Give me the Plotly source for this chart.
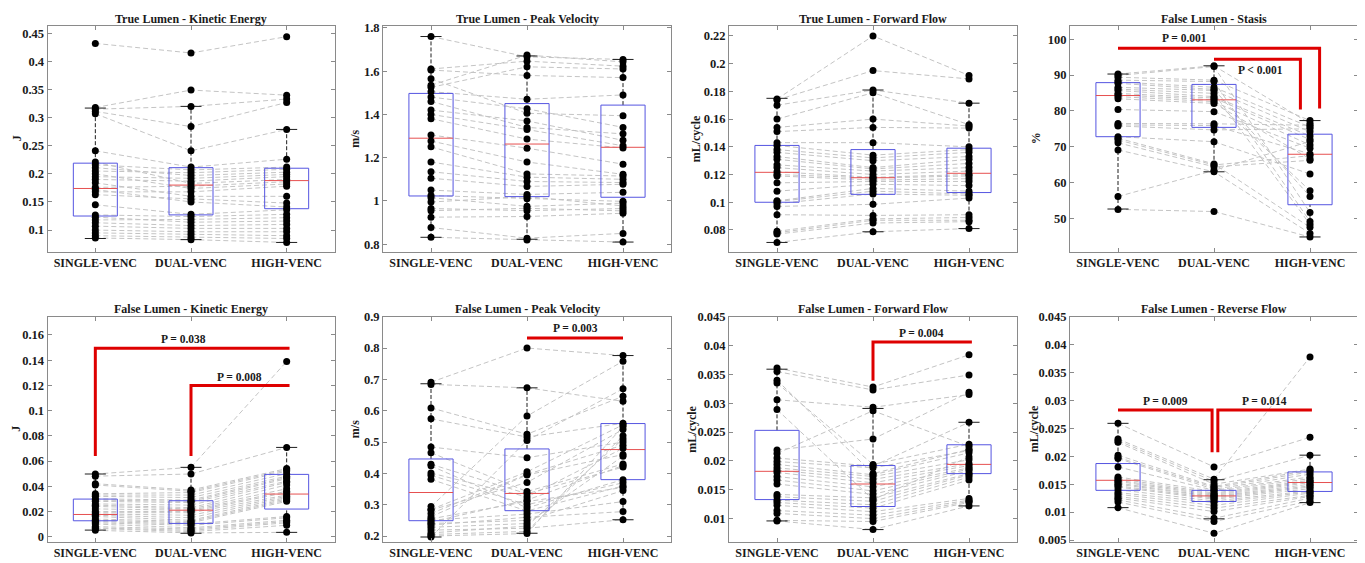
import plotly.graph_objects as go

PAGE_OFFSET = 8  # default body margin of the html page
W, H = 1365 - PAGE_OFFSET, 563 - PAGE_OFFSET
FONT = "Liberation Serif, DejaVu Serif, serif"
TXT = "#1a1a1a"
FRAME = "#8a8a8a"

CATEGORIES = ["SINGLE-VENC", "DUAL-VENC", "HIGH-VENC"]
CAT_X = [1, 2, 3]

TITLES = ["True Lumen - Kinetic Energy", "True Lumen - Peak Velocity",
          "True Lumen - Forward Flow", "False Lumen - Stasis",
          "False Lumen - Kinetic Energy", "False Lumen - Peak Velocity",
          "False Lumen - Forward Flow", "False Lumen - Reverse Flow"]
UNITS = ["J", "m/s", "mL/cycle", "%", "J", "m/s", "mL/cycle", "mL/cycle"]

# ---------------- Panel 1: True Lumen - Kinetic Energy ----------------
tl_ke_single = [0.432, 0.318, 0.315, 0.311, 0.307, 0.241, 0.221, 0.216, 0.211, 0.205, 0.200, 0.195, 0.190, 0.184,
                0.176, 0.172, 0.168, 0.163, 0.145, 0.127, 0.123, 0.118, 0.113, 0.107, 0.100, 0.095, 0.090, 0.086]
tl_ke_dual = [0.415, 0.349, 0.320, 0.284, 0.241, 0.212, 0.183, 0.207, 0.197, 0.202, 0.174, 0.192, 0.187, 0.160,
              0.178, 0.150, 0.168, 0.155, 0.128, 0.124, 0.114, 0.119, 0.108, 0.103, 0.097, 0.092, 0.087, 0.083]
tl_ke_high = [0.444, 0.340, 0.333, 0.327, 0.279, 0.226, 0.190, 0.212, 0.203, 0.208, 0.182, 0.199, 0.195, 0.160,
              0.186, 0.141, 0.178, 0.148, 0.136, 0.128, 0.116, 0.122, 0.110, 0.103, 0.097, 0.090, 0.085, 0.078]
tl_ke_q1 = [0.125, 0.127, 0.138]
tl_ke_med = [0.174, 0.180, 0.188]
tl_ke_q3 = [0.219, 0.211, 0.210]
tl_ke_lo = [0.085, 0.083, 0.078]
tl_ke_hi = [0.317, 0.320, 0.279]
tl_ke_ticks = [0.1, 0.15, 0.2, 0.25, 0.3, 0.35, 0.4, 0.45]
tl_ke_ticktext = ["0.1", "0.15", "0.2", "0.25", "0.3", "0.35", "0.4", "0.45"]

# ---------------- Panel 2: True Lumen - Peak Velocity ----------------
tl_pv_single = [1.76, 1.61, 1.605, 1.565, 1.535, 1.525, 1.505, 1.48, 1.46, 1.42, 1.40, 1.38, 1.305, 1.277,
                1.25, 1.18, 1.135, 1.105, 1.05, 1.025, 1.015, 0.995, 0.965, 0.955, 0.925, 0.877, 0.832]
tl_pv_dual = [1.666, 1.646, 1.58, 1.405, 1.674, 1.62, 1.47, 1.426, 1.34, 1.37, 1.33, 1.286, 1.244, 1.18,
              1.125, 1.11, 1.09, 1.067, 1.03, 1.01, 0.975, 1.02, 0.955, 0.966, 0.928, 0.828, 0.82]
tl_pv_high = [1.654, 1.623, 1.57, 1.394, 1.643, 1.61, 1.49, 1.34, 1.31, 1.28, 1.255, 1.245, 1.17, 1.123,
              1.115, 1.10, 1.085, 1.077, 1.04, 0.998, 0.99, 0.977, 0.965, 0.954, 0.943, 0.85, 0.81]
tl_pv_q1 = [1.023, 1.020, 1.017]
tl_pv_med = [1.290, 1.263, 1.248]
tl_pv_q3 = [1.497, 1.450, 1.443]
tl_pv_lo = [0.832, 0.823, 0.810]
tl_pv_hi = [1.760, 1.670, 1.654]
tl_pv_ticks = [0.8, 1.0, 1.2, 1.4, 1.6, 1.8]
tl_pv_ticktext = ["0.8", "1", "1.2", "1.4", "1.6", "1.8"]

# ---------------- Panel 3: True Lumen - Forward Flow ----------------
tl_ff_single = [0.1745, 0.1738, 0.170, 0.160, 0.154, 0.151, 0.143, 0.141, 0.138, 0.136, 0.133, 0.131, 0.127, 0.125,
                0.122, 0.120, 0.119, 0.114, 0.108, 0.101, 0.1005, 0.099, 0.097, 0.091, 0.079, 0.078, 0.077, 0.071]
tl_ff_dual = [0.220, 0.195, 0.181, 0.179, 0.160, 0.154, 0.143, 0.134, 0.132, 0.130, 0.125, 0.124, 0.1225, 0.120,
              0.118, 0.1175, 0.116, 0.115, 0.113, 0.110, 0.108, 0.106, 0.0985, 0.0905, 0.088, 0.087, 0.085, 0.0787]
tl_ff_high = [0.1915, 0.189, 0.1715, 0.156, 0.155, 0.1535, 0.140, 0.138, 0.136, 0.133, 0.131, 0.128, 0.125, 0.1225,
              0.120, 0.119, 0.117, 0.115, 0.112, 0.108, 0.106, 0.105, 0.103, 0.091, 0.089, 0.087, 0.086, 0.081]
tl_ff_q1 = [0.100, 0.1057, 0.107]
tl_ff_med = [0.1216, 0.1177, 0.1209]
tl_ff_q3 = [0.141, 0.138, 0.139]
tl_ff_lo = [0.071, 0.0787, 0.081]
tl_ff_hi = [0.175, 0.181, 0.1715]
tl_ff_ticks = [0.08, 0.10, 0.12, 0.14, 0.16, 0.18, 0.20, 0.22]
tl_ff_ticktext = ["0.08", "0.1", "0.12", "0.14", "0.16", "0.18", "0.2", "0.22"]

# ---------------- Panel 4: False Lumen - Stasis ----------------
fl_st_single = [90.3, 89.9, 89.4, 88.6, 88.1, 87.7, 86.6, 86.1, 85.7, 84.9, 84.5, 84.0, 83.4, 80.4,
                76.5, 76.1, 75.8, 72.8, 72.4, 71.9, 71.1, 69.1, 56.1, 52.5]
fl_st_dual = [92.6, 92.4, 88.6, 88.2, 86.6, 86.0, 85.7, 84.9, 84.0, 83.6, 83.1, 82.6, 82.1, 79.8,
              76.4, 75.9, 74.7, 71.4, 65.2, 64.9, 64.4, 63.0, 63.4, 51.9]
fl_st_high = [76.5, 51.6, 77.3, 49.1, 75.5, 56.1, 74.2, 48.3, 73.0, 72.0, 57.7, 70.5, 66.6, 69.6,
              76.0, 68.0, 75.0, 62.4, 47.5, 67.5, 66.2, 45.8, 71.5, 44.8]
fl_st_q1 = [72.8, 75.4, 53.8]
fl_st_med = [84.3, 83.1, 67.9]
fl_st_q3 = [87.9, 87.4, 73.5]
fl_st_lo = [52.6, 63.0, 44.8]
fl_st_hi = [90.3, 92.6, 77.3]
fl_st_ticks = [50, 60, 70, 80, 90, 100]
fl_st_ticktext = ["50", "60", "70", "80", "90", "100"]
fl_st_brackets = [([1, 3.1, 3.1], [97.5, 97.5, 80.7]), ([2, 2.9, 2.9], [94.4, 94.4, 80.4])]
fl_st_pvals = [("P = 0.001", 1.69, 100.3), ("P < 0.001", 2.48, 91.4)]

# ---------------- Panel 5: False Lumen - Kinetic Energy ----------------
fl_ke_single = [0.0497, 0.048, 0.042, 0.041, 0.034, 0.033, 0.032, 0.030, 0.029, 0.028, 0.026, 0.025, 0.024, 0.022,
                0.020, 0.019, 0.018, 0.017, 0.016, 0.014, 0.013, 0.012, 0.011, 0.010, 0.008, 0.007, 0.0065, 0.005]
fl_ke_dual = [0.055, 0.0497, 0.037, 0.036, 0.035, 0.033, 0.031, 0.029, 0.028, 0.027, 0.025, 0.023, 0.022, 0.021,
              0.020, 0.019, 0.017, 0.015, 0.013, 0.012, 0.011, 0.010, 0.009, 0.007, 0.006, 0.005, 0.004, 0.003]
fl_ke_high = [0.139, 0.0708, 0.054, 0.053, 0.052, 0.050, 0.048, 0.047, 0.046, 0.044, 0.043, 0.041, 0.038, 0.036,
              0.035, 0.033, 0.032, 0.031, 0.030, 0.029, 0.028, 0.016, 0.015, 0.013, 0.012, 0.011, 0.009, 0.0034]
fl_ke_q1 = [0.0126, 0.0105, 0.0219]
fl_ke_med = [0.0176, 0.0210, 0.0338]
fl_ke_q3 = [0.0298, 0.0285, 0.0494]
fl_ke_lo = [0.0052, 0.0027, 0.0034]
fl_ke_hi = [0.0497, 0.0550, 0.0708]
fl_ke_ticks = [0, 0.02, 0.04, 0.06, 0.08, 0.10, 0.12, 0.14, 0.16]
fl_ke_ticktext = ["0", "0.02", "0.04", "0.06", "0.08", "0.1", "0.12", "0.14", "0.16"]
fl_ke_brackets = [([1, 1, 3.03], [0.064, 0.1494, 0.1494]), ([2, 2, 3.03], [0.064, 0.120, 0.120])]
fl_ke_pvals = [("P = 0.038", 1.92, 0.1568), ("P = 0.008", 2.51, 0.127)]

# ---------------- Panel 6: False Lumen - Peak Velocity ----------------
fl_pv_single = [0.691, 0.684, 0.609, 0.574, 0.484, 0.466, 0.429, 0.424, 0.401, 0.394, 0.381, 0.294, 0.285, 0.283,
                0.272, 0.262, 0.255, 0.251, 0.245, 0.240, 0.235, 0.228, 0.219, 0.210, 0.205, 0.200, 0.197]
fl_pv_dual = [0.800, 0.673, 0.525, 0.516, 0.450, 0.342, 0.335, 0.290, 0.325, 0.300, 0.280, 0.583, 0.405, 0.371,
              0.397, 0.395, 0.310, 0.270, 0.315, 0.250, 0.260, 0.240, 0.225, 0.232, 0.215, 0.208, 0.505]
fl_pv_high = [0.776, 0.630, 0.646, 0.560, 0.500, 0.430, 0.420, 0.380, 0.480, 0.370, 0.360, 0.758, 0.555, 0.540,
              0.490, 0.460, 0.355, 0.310, 0.425, 0.345, 0.278, 0.455, 0.252, 0.510, 0.520, 0.550, 0.670]
fl_pv_q1 = [0.249, 0.281, 0.380]
fl_pv_med = [0.339, 0.336, 0.476]
fl_pv_q3 = [0.446, 0.478, 0.559]
fl_pv_lo = [0.197, 0.209, 0.252]
fl_pv_hi = [0.686, 0.673, 0.776]
fl_pv_ticks = [0.2, 0.3, 0.4, 0.5, 0.6, 0.7, 0.8, 0.9]
fl_pv_ticktext = ["0.2", "0.3", "0.4", "0.5", "0.6", "0.7", "0.8", "0.9"]
fl_pv_brackets = [([2, 3], [0.832, 0.832])]
fl_pv_pvals = [("P = 0.003", 2.5, 0.863)]

# ---------------- Panel 7: False Lumen - Forward Flow ----------------
fl_ff_single = [0.0361, 0.0355, 0.0340, 0.0335, 0.0306, 0.0289, 0.0219, 0.0213, 0.0205, 0.0199, 0.0194, 0.0188, 0.0184,
                0.0180, 0.0173, 0.0167, 0.0160, 0.0142, 0.0138, 0.0132, 0.0128, 0.0123, 0.0114, 0.0109, 0.0097, 0.0096]
fl_ff_dual = [0.0328, 0.0323, 0.0178, 0.0194, 0.0293, 0.0133, 0.0238, 0.0287, 0.0191, 0.0188, 0.0176, 0.0173, 0.0168,
              0.0162, 0.0155, 0.0148, 0.0142, 0.0136, 0.0130, 0.0124, 0.0118, 0.0112, 0.0106, 0.0100, 0.0095, 0.0081]
fl_ff_high = [0.0384, 0.0349, 0.0220, 0.0229, 0.0315, 0.0207, 0.0319, 0.0225, 0.0267, 0.0218, 0.0214, 0.0202, 0.0195,
              0.0192, 0.0188, 0.0186, 0.0183, 0.0178, 0.0176, 0.0172, 0.0167, 0.0135, 0.0132, 0.0130, 0.0128, 0.0122]
fl_ff_q1 = [0.0133, 0.0121, 0.0178]
fl_ff_med = [0.0182, 0.0160, 0.0194]
fl_ff_q3 = [0.0253, 0.0192, 0.0228]
fl_ff_lo = [0.0096, 0.0081, 0.0122]
fl_ff_hi = [0.0359, 0.0291, 0.0267]
fl_ff_ticks = [0.01, 0.015, 0.02, 0.025, 0.03, 0.035, 0.04, 0.045]
fl_ff_ticktext = ["0.01", "0.015", "0.02", "0.025", "0.03", "0.035", "0.04", "0.045"]
fl_ff_brackets = [([2, 2, 3.03], [0.0339, 0.0406, 0.0406])]
fl_ff_pvals = [("P = 0.004", 2.51, 0.0422)]

# ---------------- Panel 8: False Lumen - Reverse Flow ----------------
fl_rf_single = [0.0259, 0.0231, 0.0228, 0.0225, 0.0202, 0.0198, 0.0196, 0.0181, 0.0163, 0.0160, 0.0157, 0.0155,
                0.0152, 0.0150, 0.0147, 0.0145, 0.0140, 0.0135, 0.0132, 0.0128, 0.0125, 0.0122, 0.0118, 0.0108]
fl_rf_dual = [0.0181, 0.0159, 0.0155, 0.0150, 0.0146, 0.0144, 0.0141, 0.0139, 0.0137, 0.0134, 0.0132, 0.0130,
              0.0128, 0.0127, 0.0125, 0.0123, 0.0120, 0.0117, 0.0112, 0.0107, 0.0101, 0.0089, 0.0083, 0.0062]
fl_rf_high = [0.0234, 0.0378, 0.0202, 0.0177, 0.0175, 0.0172, 0.0168, 0.0163, 0.0160, 0.0157, 0.0155, 0.0153,
              0.0150, 0.0147, 0.0145, 0.0142, 0.0138, 0.0136, 0.0134, 0.0130, 0.0128, 0.0125, 0.0120, 0.0117]
fl_rf_q1 = [0.0139, 0.0119, 0.0137]
fl_rf_med = [0.0157, 0.0129, 0.0153]
fl_rf_q3 = [0.0187, 0.0139, 0.0172]
fl_rf_lo = [0.0108, 0.0088, 0.0117]
fl_rf_hi = [0.0259, 0.0158, 0.0202]
fl_rf_ticks = [0.005, 0.01, 0.015, 0.02, 0.025, 0.03, 0.035, 0.04, 0.045]
fl_rf_ticktext = ["0.005", "0.01", "0.015", "0.02", "0.025", "0.03", "0.035", "0.04", "0.045"]
fl_rf_brackets = [([1, 1.98, 1.98], [0.0283, 0.0283, 0.0207]), ([2.04, 2.04, 3.02], [0.0207, 0.0283, 0.0283])]
fl_rf_pvals = [("P = 0.009", 1.49, 0.0299), ("P = 0.014", 2.53, 0.0299)]

panels = [
    dict(s=tl_ke_single, d=tl_ke_dual, h=tl_ke_high, q1=tl_ke_q1, med=tl_ke_med, q3=tl_ke_q3, lo=tl_ke_lo,
         hi=tl_ke_hi, tv=tl_ke_ticks, tt=tl_ke_ticktext, yr=[0.061, 0.4635], br=[], pv=[]),
    dict(s=tl_pv_single, d=tl_pv_dual, h=tl_pv_high, q1=tl_pv_q1, med=tl_pv_med, q3=tl_pv_q3, lo=tl_pv_lo,
         hi=tl_pv_hi, tv=tl_pv_ticks, tt=tl_pv_ticktext, yr=[0.764, 1.81], br=[], pv=[]),
    dict(s=tl_ff_single, d=tl_ff_dual, h=tl_ff_high, q1=tl_ff_q1, med=tl_ff_med, q3=tl_ff_q3, lo=tl_ff_lo,
         hi=tl_ff_hi, tv=tl_ff_ticks, tt=tl_ff_ticktext, yr=[0.0641, 0.2274], br=[], pv=[]),
    dict(s=fl_st_single, d=fl_st_dual, h=fl_st_high, q1=fl_st_q1, med=fl_st_med, q3=fl_st_q3, lo=fl_st_lo,
         hi=fl_st_hi, tv=fl_st_ticks, tt=fl_st_ticktext, yr=[40.6, 103.8], br=fl_st_brackets, pv=fl_st_pvals),
    dict(s=fl_ke_single, d=fl_ke_dual, h=fl_ke_high, q1=fl_ke_q1, med=fl_ke_med, q3=fl_ke_q3, lo=fl_ke_lo,
         hi=fl_ke_hi, tv=fl_ke_ticks, tt=fl_ke_ticktext, yr=[-0.004, 0.1745], br=fl_ke_brackets, pv=fl_ke_pvals),
    dict(s=fl_pv_single, d=fl_pv_dual, h=fl_pv_high, q1=fl_pv_q1, med=fl_pv_med, q3=fl_pv_q3, lo=fl_pv_lo,
         hi=fl_pv_hi, tv=fl_pv_ticks, tt=fl_pv_ticktext, yr=[0.182, 0.9], br=fl_pv_brackets, pv=fl_pv_pvals),
    dict(s=fl_ff_single, d=fl_ff_dual, h=fl_ff_high, q1=fl_ff_q1, med=fl_ff_med, q3=fl_ff_q3, lo=fl_ff_lo,
         hi=fl_ff_hi, tv=fl_ff_ticks, tt=fl_ff_ticktext, yr=[0.006, 0.045], br=fl_ff_brackets, pv=fl_ff_pvals),
    dict(s=fl_rf_single, d=fl_rf_dual, h=fl_rf_high, q1=fl_rf_q1, med=fl_rf_med, q3=fl_rf_q3, lo=fl_rf_lo,
         hi=fl_rf_hi, tv=fl_rf_ticks, tt=fl_rf_ticktext, yr=[0.0047, 0.045], br=fl_rf_brackets, pv=fl_rf_pvals),
]

# ---------------- layout geometry (page pixels, shifted by the page offset) ----------------
COL_PX = [(47.5, 334.5), (383, 671), (729, 1017), (1070, 1358)]
ROW_PX = [(25.7, 252.0), (316.7, 541.7)]
TITLE_Y_PX = [19, 309]
YLABEL_X_PX = [[16.5, 355, 695.5, 1035.5], [16.5, 355, 692.5, 1034]]
BOX_HALF = 0.23
CAP_HALF = 0.11


def fx(px):
    return (px - PAGE_OFFSET) / W


def fy(py):
    return 1 - (py - PAGE_OFFSET) / H


fig = go.Figure()
layout = dict(width=W, height=H, margin=dict(l=0, r=0, t=0, b=0, pad=0), paper_bgcolor="white",
              plot_bgcolor="white", showlegend=False, template="none", annotations=[])

for k, p in enumerate(panels):
    row, col = divmod(k, 4)
    xa = "x" if k == 0 else f"x{k + 1}"
    ya = "y" if k == 0 else f"y{k + 1}"
    # paired subject lines
    lx, ly = [], []
    for a, b, c in zip(p["s"], p["d"], p["h"]):
        lx += CAT_X + [None]
        ly += [a, b, c, None]
    fig.add_trace(go.Scatter(x=lx, y=ly, mode="lines", xaxis=xa, yaxis=ya, hoverinfo="skip",
                             line=dict(color="rgb(196,196,196)", width=1, dash="5px,3px")))
    # box plot pieces
    wx, wy, cx, cy, bx, by, mx, my = [], [], [], [], [], [], [], []
    for i, xc in enumerate(CAT_X):
        wx += [xc, xc, None, xc, xc, None]
        wy += [p["q3"][i], p["hi"][i], None, p["lo"][i], p["q1"][i], None]
        cx += [xc - CAP_HALF, xc + CAP_HALF, None, xc - CAP_HALF, xc + CAP_HALF, None]
        cy += [p["hi"][i], p["hi"][i], None, p["lo"][i], p["lo"][i], None]
        bx += [xc - BOX_HALF, xc + BOX_HALF, xc + BOX_HALF, xc - BOX_HALF, xc - BOX_HALF, None]
        by += [p["q1"][i], p["q1"][i], p["q3"][i], p["q3"][i], p["q1"][i], None]
        mx += [xc - BOX_HALF, xc + BOX_HALF, None]
        my += [p["med"][i], p["med"][i], None]
    fig.add_trace(go.Scatter(x=wx, y=wy, mode="lines", xaxis=xa, yaxis=ya, hoverinfo="skip",
                             line=dict(color="rgb(30,30,30)", width=1, dash="4px,2px")))
    fig.add_trace(go.Scatter(x=cx, y=cy, mode="lines", xaxis=xa, yaxis=ya, hoverinfo="skip",
                             line=dict(color="rgb(30,30,30)", width=1)))
    fig.add_trace(go.Scatter(x=bx, y=by, mode="lines", xaxis=xa, yaxis=ya, hoverinfo="skip",
                             line=dict(color="rgb(85,85,225)", width=1)))
    fig.add_trace(go.Scatter(x=mx, y=my, mode="lines", xaxis=xa, yaxis=ya, hoverinfo="skip",
                             line=dict(color="rgb(230,80,80)", width=1)))
    # points
    px_, py_ = [], []
    for xc, vals in zip(CAT_X, [p["s"], p["d"], p["h"]]):
        px_ += [xc] * len(vals)
        py_ += list(vals)
    fig.add_trace(go.Scatter(x=px_, y=py_, mode="markers", xaxis=xa, yaxis=ya,
                             marker=dict(color="black", size=7, line=dict(width=0))))
    # significance brackets
    for bxs, bys in p["br"]:
        fig.add_trace(go.Scatter(x=bxs, y=bys, mode="lines", xaxis=xa, yaxis=ya, hoverinfo="skip",
                                 line=dict(color="rgb(222,0,0)", width=3)))
    for txt, tx, ty in p["pv"]:
        layout["annotations"].append(dict(text=txt, x=tx, y=ty, xref=xa, yref=ya, showarrow=False,
                                          xanchor="center", yanchor="middle",
                                          font=dict(family=FONT, size=11.5, color=TXT, weight="bold")))

    x0, x1 = COL_PX[col]
    y0, y1 = ROW_PX[row]
    common = dict(showline=True, linecolor=FRAME, linewidth=1, mirror="ticks", ticks="inside", ticklen=4,
                  tickcolor=FRAME, showgrid=False, zeroline=False, automargin=False)
    layout["xaxis" if k == 0 else f"xaxis{k + 1}"] = dict(
        common, domain=[fx(x0), fx(x1)], range=[0.5, 3.5], tickvals=CAT_X, ticktext=CATEGORIES,
        anchor=ya, tickfont=dict(family=FONT, size=12, color=TXT, weight="bold"))
    layout["yaxis" if k == 0 else f"yaxis{k + 1}"] = dict(
        common, domain=[fy(y1), fy(y0)], range=p["yr"], tickvals=p["tv"], ticktext=p["tt"],
        anchor=xa, tickfont=dict(family=FONT, size=12.5, color=TXT, weight="bold"))
    # title
    layout["annotations"].append(dict(text=TITLES[k], x=fx((x0 + x1) / 2), y=fy(TITLE_Y_PX[row]),
                                      xref="paper", yref="paper", showarrow=False,
                                      xanchor="center", yanchor="middle",
                                      font=dict(family=FONT, size=12, color=TXT, weight="bold")))
    # y-axis unit label
    layout["annotations"].append(dict(text=UNITS[k], x=fx(YLABEL_X_PX[row][col]), y=fy((y0 + y1) / 2),
                                      xref="paper", yref="paper", showarrow=False, textangle=-90,
                                      xanchor="center", yanchor="middle",
                                      font=dict(family=FONT, size=12, color=TXT, weight="bold")))

fig.update_layout(**layout)
fig.write_html("out.html")
